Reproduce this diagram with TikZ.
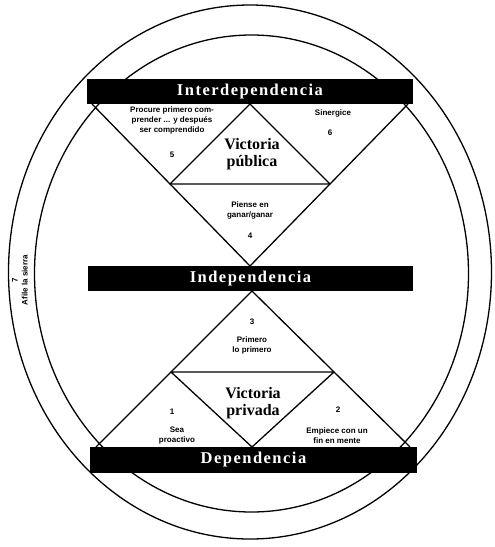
\documentclass[tikz,border=0pt]{standalone}
\usepackage{fontspec}
\setmainfont{Liberation Serif}
\newfontfamily\habfont{Liberation Sans}
\newfontfamily\barfont[LetterSpace=9]{Liberation Serif}
\begin{document}
\begin{tikzpicture}[x=1pt,y=-1pt,line width=1.3pt,line join=round,
  barbox/.style={fill=black,draw=none,inner sep=0pt,text=white,
    font=\barfont\bfseries\fontsize{16.5}{16.5}\selectfont},
  habit/.style={font=\habfont\bfseries\fontsize{8}{10}\selectfont,align=center,inner sep=0pt},
  vic/.style={font=\bfseries\fontsize{16}{16.5}\selectfont,align=center,inner sep=0pt}]
\useasboundingbox (0,0) rectangle (495,547);
% ellipses
\draw (250,272) ellipse [x radius=241.5, y radius=267];
\draw (251.5,273.5) ellipse [x radius=217, y radius=238.5];
% upper hourglass
\coordinate (tl) at (92,104);
\coordinate (tr) at (408,104);
\coordinate (ta) at (250,104);
\coordinate (ml) at (170,184);
\coordinate (mr) at (330,184);
\coordinate (xm) at (250,266);
\draw (tl) -- (xm) -- (tr);
\draw (ml) -- (ta) -- (mr) -- cycle;
% lower hourglass
\coordinate (la) at (252,291);
\coordinate (bl) at (96,447);
\coordinate (br) at (410,447);
\coordinate (ll) at (171,372);
\coordinate (lr) at (334,372);
\coordinate (lb) at (252,447);
\draw (bl) -- (la) -- (br);
\draw (ll) -- (lb) -- (lr) -- cycle;
% bars
\node[barbox,minimum width=326pt,minimum height=25pt] (inter) at (250,91.5) {Interdependencia};
\node[barbox,minimum width=325pt,minimum height=25pt] (indep) at (250.5,278.5) {Independencia};
\node[barbox,minimum width=327pt,minimum height=26pt] (dep) at (253.5,460) {Dependencia};
% texts
\node[habit] (h5) at (172,120.5) {Procure primero com-\\prender ... y después\\ser comprendido};
\node[habit] (n5) at (172,155) {5};
\node[habit] (h6) at (333,113) {Sinergice};
\node[habit] (n6) at (330,133) {6};
\node[vic] (vpub) at (252,154) {Victoria\\pública};
\node[habit] (h4) at (250,210) {Piense en\\ganar/ganar};
\node[habit] (n4) at (250,236) {4};
\node[habit] (n3) at (252,322) {3};
\node[habit] (h3) at (252,345) {Primero\\lo primero};
\node[vic] (vpri) at (253,403) {Victoria\\privada};
\node[habit] (n1) at (172,412) {1};
\node[habit] (h1) at (177,435.5) {Sea\\proactivo};
\node[habit] (n2) at (338,410) {2};
\node[habit] (h2) at (337,435.5) {Empiece con un\\fin en mente};
\node[habit,rotate=90] (h7) at (20,280) {7\\Afile la sierra};
\end{tikzpicture}
\end{document}
